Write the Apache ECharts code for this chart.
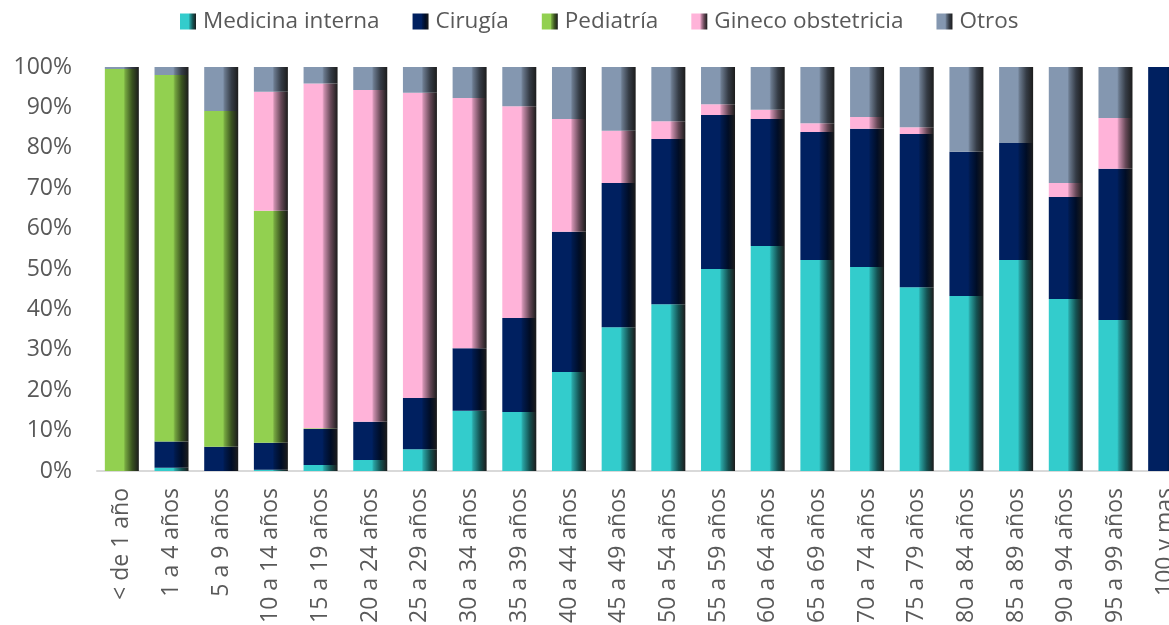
<!DOCTYPE html>
<html>
<head>
<meta charset="utf-8">
<title>Egresos por servicio y grupo de edad</title>
<script src="https://cdn.jsdelivr.net/npm/echarts@6/dist/echarts.min.js"></script>
<style>
  html, body { margin: 0; padding: 0; background: #fff; }
  #chart { width: 1169px; height: 625px; }
</style>
</head>
<body>
<div id="chart"></div>
<script>
// grupos de edad
const categorias = ['< de 1 año', '1 a 4 años', '5 a 9 años', '10 a 14 años', '15 a 19 años',
  '20 a 24 años', '25 a 29 años', '30 a 34 años', '35 a 39 años', '40 a 44 años', '45 a 49 años',
  '50 a 54 años', '55 a 59 años', '60 a 64 años', '65 a 69 años', '70 a 74 años', '75 a 79 años',
  '80 a 84 años', '85 a 89 años', '90 a 94 años', '95 a 99 años', '100 y mas'];

// porcentajes por servicio
const medicinaInterna = [0, 0.8, 0, 0.3, 1.5, 2.7, 5.4, 14.9, 14.6, 24.5, 35.6, 41.3, 50.0, 55.7, 52.2, 50.5, 45.5, 43.3, 52.2, 42.6, 37.4, 0];
const cirugia = [0, 6.5, 6.0, 6.7, 8.9, 9.5, 12.7, 15.5, 23.3, 34.7, 35.7, 40.9, 38.1, 31.4, 31.7, 34.2, 37.9, 35.7, 29.0, 25.2, 37.4, 100];
const pediatria = [99.5, 90.7, 83.1, 57.4, 0.2, 0, 0, 0, 0, 0, 0, 0, 0, 0, 0, 0, 0, 0, 0, 0, 0, 0];
const ginecoObstetricia = [0, 0, 0, 29.5, 85.3, 82.1, 75.5, 61.9, 52.4, 27.9, 12.9, 4.4, 2.7, 2.3, 2.2, 2.9, 1.7, 0, 0, 3.5, 12.6, 0];
const otros = [0.5, 2.0, 10.9, 6.1, 4.1, 5.7, 6.4, 7.7, 9.7, 12.9, 15.8, 13.4, 9.2, 10.6, 13.9, 12.4, 14.9, 21.0, 18.8, 28.7, 12.6, 0];

const yTicks = [0, 10, 20, 30, 40, 50, 60, 70, 80, 90, 100];

// oscurece un color hex por un factor
function shade(hex, f) {
  const n = parseInt(hex.slice(1), 16);
  const r = Math.round(((n >> 16) & 255) * f);
  const g = Math.round(((n >> 8) & 255) * f);
  const b = Math.round((n & 255) * f);
  return 'rgb(' + r + ',' + g + ',' + b + ')';
}

// degradado horizontal tipo Excel
function degradado(base) {
  return new echarts.graphic.LinearGradient(0, 0, 1, 0, [
    { offset: 0, color: base },
    { offset: 0.55, color: base },
    { offset: 0.6, color: shade(base, 0.8) },
    { offset: 0.8, color: shade(base, 0.4) },
    { offset: 1, color: '#1c1c1c' }
  ]);
}

function serie(nombre, datos, color) {
  return {
    name: nombre,
    type: 'bar',
    stack: 'total',
    barWidth: 34,
    itemStyle: { color: degradado(color) },
    data: datos
  };
}

const chart = echarts.init(document.getElementById('chart'));

const option = {
  animation: false,
  textStyle: { fontFamily: 'Open Sans' },
  legend: {
    left: 175,
    top: 5,
    icon: 'rect',
    itemWidth: 16,
    itemHeight: 16,
    itemGap: 33,
    textStyle: { fontSize: 22.5, color: '#595959', fontFamily: 'Open Sans', padding: [0, 0, 0, 2] }
  },
  grid: {
    left: 97,
    top: 67,
    width: 1093,
    height: 404,
    outerBoundsMode: 'none'
  },
  xAxis: {
    type: 'category',
    data: categorias,
    axisLine: { lineStyle: { color: '#D9D9D9', width: 2 } },
    axisTick: { show: false },
    axisLabel: {
      rotate: 90,
      interval: 0,
      margin: 17,
      fontSize: 23,
      color: '#595959',
      fontFamily: 'Open Sans'
    }
  },
  yAxis: {
    type: 'value',
    min: yTicks[0],
    max: yTicks[yTicks.length - 1],
    interval: 10,
    splitLine: { show: false },
    axisLine: { show: false },
    axisTick: { show: false },
    axisLabel: {
      formatter: '{value}%',
      margin: 25,
      fontSize: 23,
      color: '#595959',
      fontFamily: 'Open Sans'
    }
  },
  series: [
    serie('Medicina interna', medicinaInterna, '#33CCCC'),
    serie('Cirugía', cirugia, '#002060'),
    serie('Pediatría', pediatria, '#92D050'),
    serie('Gineco obstetricia', ginecoObstetricia, '#FFB3D9'),
    serie('Otros', otros, '#8497B0')
  ]
};

chart.setOption(option);
</script>
</body>
</html>
